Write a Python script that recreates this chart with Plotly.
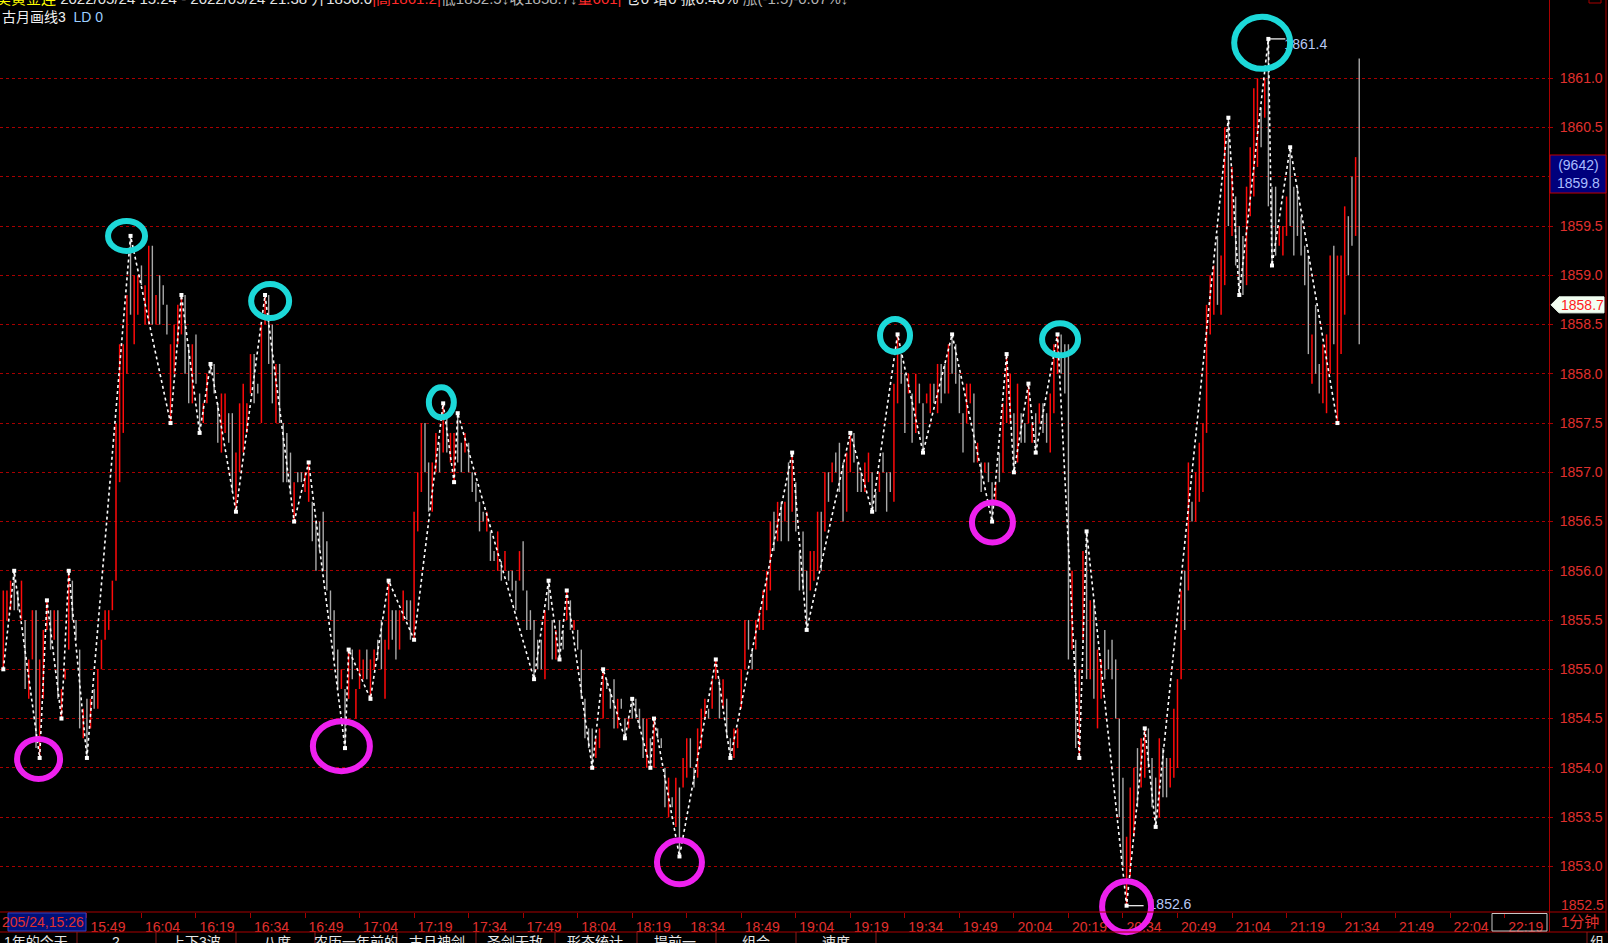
import plotly.graph_objects as go

# ---------------- data ----------------
# 1-minute bars, index 0 = 15:26 (low, high, up=1 red / 0 gray)
bar_low = [
    1855.0, 1855.5, 1855.6, 1855.6, 1855.6, 1855.5, 1854.8, 1854.7, 1855.1, 1854.2,
    1854.1, 1854.7, 1855.4, 1855.2, 1855.3, 1854.7, 1854.5, 1854.9, 1855.2, 1855.5,
    1855.3, 1854.4, 1854.3, 1854.1, 1854.4, 1854.6, 1854.6, 1855.0, 1855.3, 1855.4,
    1855.6, 1855.9, 1856.9, 1857.4, 1858.0, 1858.6, 1858.3, 1858.6, 1858.9, 1858.5,
    1858.5, 1858.5, 1858.5, 1858.5, 1858.7, 1858.4, 1857.5, 1858.0, 1858.3, 1858.4,
    1858.0, 1857.7, 1857.7, 1857.9, 1857.4, 1857.5, 1857.7, 1858.0, 1857.8, 1857.3,
    1857.2, 1857.4, 1857.3, 1856.8, 1856.6, 1857.0, 1857.2, 1857.4, 1857.8, 1857.7,
    1857.8, 1857.5, 1858.5, 1858.1, 1857.7, 1857.5, 1857.5, 1856.9, 1856.9, 1856.8,
    1856.5, 1856.9, 1856.9, 1856.8, 1856.7, 1856.3, 1856.0, 1856.2, 1856.0, 1855.8,
    1855.5, 1855.1, 1854.8, 1854.8, 1854.2, 1854.7, 1854.9, 1854.5, 1854.8, 1854.9,
    1854.9, 1854.7, 1855.0, 1855.1, 1855.0, 1854.7, 1855.2, 1855.3, 1855.1, 1855.2,
    1855.5, 1855.5, 1855.3, 1855.3, 1856.4, 1856.8, 1857.0, 1856.6, 1856.6, 1857.0,
    1857.0, 1857.2, 1857.2, 1857.1, 1856.9, 1857.1, 1857.0, 1857.2, 1857.0, 1856.8,
    1856.7, 1856.4, 1856.5, 1856.4, 1856.1, 1856.1, 1856.0, 1855.9, 1856.0, 1855.9,
    1855.8, 1855.6, 1855.9, 1855.8, 1855.4, 1855.4, 1854.9, 1855.0, 1855.0, 1854.9,
    1855.6, 1855.1, 1855.1, 1855.1, 1855.2, 1855.5, 1855.4, 1855.4, 1855.2, 1854.7,
    1854.3, 1854.2, 1854.0, 1854.1, 1854.2, 1854.5, 1854.8, 1854.6, 1854.4, 1854.4,
    1854.6, 1854.3, 1854.4, 1854.5, 1854.5, 1854.4, 1854.1, 1854.0, 1854.0, 1854.0,
    1854.3, 1854.2, 1853.6, 1853.5, 1853.6, 1853.4, 1853.1, 1853.8, 1853.9, 1854.0,
    1853.8, 1853.9, 1854.2, 1854.5, 1854.5, 1854.6, 1854.9, 1854.5, 1854.6, 1854.3,
    1854.1, 1854.1, 1854.2, 1854.6, 1855.0, 1855.2, 1855.0, 1855.2, 1855.4, 1855.4,
    1855.6, 1855.8, 1856.2, 1856.3, 1856.3, 1856.5, 1856.3, 1856.6, 1856.4, 1855.8,
    1855.8, 1855.4, 1855.8, 1855.9, 1856.0, 1856.0, 1856.4, 1856.7, 1856.9, 1857.0,
    1856.8, 1856.5, 1856.6, 1857.0, 1857.1, 1856.8, 1856.8, 1856.8, 1856.9, 1856.6,
    1856.6, 1856.8, 1857.0, 1856.6, 1856.8, 1856.7, 1857.7, 1857.9, 1857.4, 1857.8,
    1857.3, 1857.4, 1857.7, 1857.2, 1857.7, 1857.6, 1857.7, 1857.6, 1857.7, 1857.8,
    1857.8, 1858.0, 1857.9, 1857.6, 1857.2, 1857.5, 1857.7, 1857.1, 1857.1, 1856.8,
    1857.0, 1856.9, 1856.5, 1856.7, 1856.9, 1857.0, 1857.5, 1857.5, 1857.0, 1857.1,
    1857.3, 1857.3, 1857.5, 1857.3, 1857.2, 1857.5, 1857.4, 1857.3, 1857.2, 1857.6,
    1858.0, 1858.0, 1857.8, 1855.1, 1855.2, 1854.2, 1854.1, 1855.3, 1854.9, 1854.9,
    1854.7, 1854.4, 1854.7, 1854.9, 1855.0, 1854.9, 1854.5, 1853.5, 1853.0, 1852.6,
    1852.9, 1853.3, 1853.6, 1853.8, 1853.9, 1854.0, 1853.6, 1853.4, 1853.5, 1853.7,
    1853.7, 1853.8, 1853.9, 1854.0, 1854.9, 1855.4, 1855.8, 1856.5, 1856.5, 1856.7,
    1856.8, 1857.4, 1858.4, 1858.6, 1858.7, 1858.6, 1858.9, 1859.5, 1859.4, 1859.1,
    1858.8, 1858.8, 1858.9, 1859.6, 1859.8, 1860.1, 1860.3, 1860.6, 1859.7, 1859.1,
    1859.2, 1859.3, 1859.2, 1859.4, 1859.5, 1859.2, 1859.4, 1859.2, 1858.9, 1858.2,
    1857.9, 1858.0, 1857.8, 1857.7, 1857.6, 1858.0, 1858.3, 1857.5, 1858.2, 1858.6,
    1859.0, 1859.3, 1859.4, 1858.3,
]
bar_high = [
    1855.8, 1855.8, 1855.9, 1856.0, 1855.8, 1855.9, 1855.5, 1855.1, 1855.6, 1855.6,
    1855.1, 1855.4, 1855.7, 1855.6, 1855.6, 1855.6, 1854.8, 1855.0, 1856.0, 1855.9,
    1855.5, 1855.2, 1854.6, 1854.7, 1854.7, 1854.8, 1855.0, 1855.3, 1855.6, 1855.6,
    1855.9, 1857.5, 1858.3, 1858.3, 1858.8, 1859.4, 1859.0, 1859.0, 1859.1, 1858.9,
    1859.3, 1859.3, 1858.8, 1859.0, 1858.9, 1858.7, 1858.3, 1858.5, 1858.7, 1858.8,
    1858.8, 1858.3, 1858.3, 1858.4, 1857.8, 1857.7, 1858.0, 1858.1, 1858.1, 1857.7,
    1857.8, 1857.8, 1857.6, 1857.6, 1857.2, 1857.7, 1857.9, 1857.7, 1858.2, 1858.2,
    1857.9, 1858.5, 1858.8, 1858.8, 1858.5, 1858.1, 1858.1, 1857.5, 1857.4, 1857.2,
    1856.9, 1857.0, 1857.0, 1857.0, 1857.1, 1856.7, 1856.5, 1856.5, 1856.6, 1856.3,
    1855.8, 1855.6, 1855.2, 1855.0, 1854.8, 1855.2, 1855.2, 1854.8, 1855.2, 1855.1,
    1855.2, 1855.1, 1855.2, 1855.3, 1855.5, 1855.3, 1855.9, 1855.6, 1855.6, 1855.6,
    1855.8, 1855.7, 1855.7, 1856.6, 1857.0, 1857.5, 1857.5, 1857.1, 1857.1, 1857.4,
    1857.3, 1857.7, 1857.6, 1857.4, 1857.4, 1857.6, 1857.3, 1857.4, 1857.3, 1857.0,
    1856.9, 1856.7, 1856.6, 1856.6, 1856.4, 1856.2, 1856.4, 1856.1, 1856.2, 1856.0,
    1856.0, 1855.9, 1856.2, 1856.3, 1855.8, 1855.6, 1855.5, 1855.3, 1855.3, 1855.6,
    1855.9, 1855.5, 1855.4, 1855.5, 1855.4, 1855.8, 1855.7, 1855.5, 1855.4, 1855.2,
    1854.7, 1854.4, 1854.4, 1854.3, 1854.4, 1855.0, 1854.9, 1854.8, 1854.9, 1854.7,
    1854.7, 1854.5, 1854.5, 1854.7, 1854.7, 1854.6, 1854.5, 1854.5, 1854.3, 1854.5,
    1854.4, 1854.3, 1854.0, 1853.9, 1853.7, 1853.9, 1853.8, 1854.1, 1854.3, 1854.3,
    1854.0, 1854.4, 1854.6, 1854.7, 1854.6, 1854.9, 1855.1, 1854.9, 1854.9, 1854.7,
    1854.3, 1854.4, 1854.4, 1855.0, 1855.5, 1855.5, 1855.2, 1855.5, 1855.6, 1855.8,
    1856.0, 1856.5, 1856.6, 1856.7, 1856.7, 1856.7, 1857.1, 1857.2, 1856.9, 1856.2,
    1856.4, 1856.0, 1856.2, 1856.2, 1856.6, 1856.6, 1857.0, 1857.0, 1857.1, 1857.2,
    1857.3, 1857.1, 1857.2, 1857.4, 1857.4, 1857.1, 1857.0, 1857.1, 1857.2, 1857.0,
    1856.8, 1857.0, 1857.2, 1857.0, 1857.0, 1857.9, 1858.4, 1858.2, 1858.0, 1858.0,
    1857.8, 1858.0, 1857.9, 1857.7, 1857.8, 1857.9, 1857.9, 1858.1, 1858.1, 1858.1,
    1858.3, 1858.4, 1858.3, 1858.0, 1857.6, 1857.9, 1857.9, 1857.8, 1857.3, 1857.1,
    1857.1, 1857.1, 1856.9, 1856.9, 1857.2, 1857.7, 1858.2, 1858.0, 1857.6, 1857.9,
    1857.6, 1857.5, 1857.9, 1857.5, 1857.6, 1857.7, 1857.7, 1857.6, 1857.8, 1858.3,
    1858.4, 1858.4, 1858.3, 1858.3, 1856.0, 1855.3, 1855.0, 1856.2, 1856.4, 1855.7,
    1855.7, 1855.2, 1855.1, 1855.4, 1855.2, 1855.3, 1855.1, 1854.5, 1853.9, 1853.3,
    1853.8, 1854.0, 1854.2, 1854.3, 1854.4, 1854.4, 1854.1, 1853.9, 1854.3, 1854.2,
    1854.1, 1854.1, 1854.6, 1854.9, 1855.8, 1856.0, 1857.1, 1856.7, 1857.0, 1857.3,
    1857.5, 1858.7, 1859.0, 1859.1, 1859.4, 1859.2, 1860.5, 1860.6, 1860.1, 1859.8,
    1859.5, 1859.4, 1859.9, 1860.3, 1860.9, 1861.0, 1860.7, 1861.0, 1861.4, 1859.9,
    1859.9, 1859.5, 1859.5, 1859.8, 1860.3, 1859.9, 1859.9, 1859.6, 1859.3, 1859.2,
    1858.4, 1858.7, 1858.1, 1858.3, 1858.4, 1859.2, 1859.3, 1859.2, 1859.2, 1859.7,
    1859.6, 1860.0, 1860.2, 1861.2,
]
bar_up = [
    1, 1, 1, 0, 0, 1, 0, 1, 1, 0,   1, 1, 1, 0, 1, 0, 1, 1, 1, 0,
    0, 0, 1, 0, 1, 0, 1, 1, 1, 1,   1, 1, 1, 1, 1, 0, 1, 1, 0, 1,
    1, 0, 1, 0, 0, 0, 1, 1, 1, 1,   0, 0, 1, 0, 0, 1, 1, 0, 0, 0,
    1, 1, 0, 0, 1, 1, 1, 1, 1, 0,   0, 1, 1, 0, 0, 1, 0, 0, 0, 0,
    1, 0, 0, 1, 1, 0, 0, 0, 0, 0,   0, 0, 0, 1, 0, 1, 0, 1, 1, 1,
    0, 1, 1, 0, 0, 1, 1, 0, 0, 1,   1, 0, 0, 1, 1, 1, 0, 0, 1, 1,
    0, 1, 0, 1, 1, 0, 0, 1, 0, 0,   0, 0, 0, 1, 0, 0, 1, 0, 1, 0,
    0, 0, 1, 0, 0, 0, 0, 0, 0, 1,   0, 0, 1, 0, 0, 1, 0, 1, 0, 0,
    0, 0, 0, 1, 1, 1, 0, 0, 0, 1,   0, 0, 1, 0, 0, 0, 0, 1, 0, 1,
    0, 0, 0, 1, 0, 1, 0, 1, 1, 0,   0, 1, 1, 1, 0, 1, 1, 0, 1, 0,
    0, 1, 1, 1, 1, 0, 0, 1, 1, 1,   1, 1, 0, 1, 0, 1, 0, 1, 0, 0,
    0, 0, 1, 1, 1, 0, 1, 0, 1, 0,   0, 0, 1, 1, 0, 0, 0, 1, 1, 0,
    0, 1, 0, 0, 0, 1, 1, 0, 0, 1,   0, 1, 0, 0, 1, 1, 0, 1, 0, 0,
    1, 0, 0, 0, 0, 1, 1, 0, 1, 0,   1, 0, 0, 1, 0, 1, 1, 1, 0, 1,
    0, 0, 1, 1, 0, 1, 0, 0, 1, 1,   1, 0, 0, 0, 1, 0, 1, 1, 0, 1,
    0, 1, 1, 0, 0, 0, 0, 0, 0, 1,   1, 1, 0, 1, 1, 0, 0, 0, 1, 0,
    0, 1, 1, 1, 1, 0, 1, 0, 1, 1,   1, 1, 1, 1, 0, 1, 1, 0, 1, 0,
    0, 0, 1, 1, 1, 1, 0, 1, 0, 0,   0, 1, 1, 1, 0, 0, 0, 0, 0, 0,
    1, 0, 0, 1, 1, 1, 0, 1, 1, 1,   0, 0, 1, 0,
]

# zigzag swing points (bar index, price)
pivot_k = [0, 3, 10, 12, 16, 18, 23, 35, 46, 49, 54, 57, 64, 72, 80, 84,
           94, 95, 101, 106, 113, 121, 124, 125, 146, 150, 153, 155, 162, 165,
           171, 173, 178, 179, 186, 196, 200, 217, 221, 233, 239, 246, 253, 261,
           272, 276, 278, 282, 284, 290, 296, 298, 309, 314, 317, 337, 340, 348,
           349, 354, 367]
pivot_p = [1855.0, 1856.0, 1854.1, 1855.7, 1854.5, 1856.0, 1854.1, 1859.4, 1857.5,
           1858.8, 1857.4, 1858.1, 1856.6, 1858.8, 1856.5, 1857.1, 1854.2, 1855.2,
           1854.7, 1855.9, 1855.3, 1857.7, 1856.9, 1857.6, 1854.9, 1855.9, 1855.1,
           1855.8, 1854.0, 1855.0, 1854.3, 1854.7, 1854.0, 1854.5, 1853.1, 1855.1,
           1854.1, 1857.2, 1855.4, 1857.4, 1856.6, 1858.4, 1857.2, 1858.4, 1856.5,
           1858.2, 1857.0, 1857.9, 1857.2, 1858.4, 1854.1, 1856.4, 1852.6, 1854.4,
           1853.4, 1860.6, 1858.8, 1861.4, 1859.1, 1860.3, 1857.5]

# marked highs (cyan) and lows (magenta): centre (bar index, price)
high_ring_k = [33.9, 73.4, 120.5, 245.3, 290.7, 346.3]
high_ring_p = [1859.40, 1858.74, 1857.71, 1858.39, 1858.35, 1861.36]
low_ring_k = [9.7, 93.0, 186.0, 272.1, 309.0]
low_ring_p = [1854.09, 1854.22, 1853.04, 1856.49, 1852.59]

# labelled extremes
hi_label_k, hi_label_p = 348, 1861.4
lo_label_k, lo_label_p = 309, 1852.6
last_price = 1858.7
cursor_price = 1859.8
cursor_vol = 9642

time_tick_k = [23, 38, 53, 68, 83, 98, 113, 128, 143, 158, 173, 188, 203, 218,
               233, 248, 263, 278, 293, 308, 323, 338, 353, 368, 383, 398, 413]
time_tick_labels = ["15:49", "16:04", "16:19", "16:34", "16:49", "17:04", "17:19",
                    "17:34", "17:49", "18:04", "18:19", "18:34", "18:49", "19:04",
                    "19:19", "19:34", "19:49", "20:04", "20:19", "20:34", "20:49",
                    "21:04", "21:19", "21:34", "21:49", "22:04", "22:19"]
price_ticks = [1853.0, 1853.5, 1854.0, 1854.5, 1855.0, 1855.5, 1856.0, 1856.5, 1857.0,
               1857.5, 1858.0, 1858.5, 1859.0, 1859.5, 1860.0, 1860.5, 1861.0]
tab_labels = ["1年的今天", "2", "上下3波", "八度", "农历一年前的", "古月神剑", "圣剑无敌",
              "形态统计", "提前一", "组合", "速度"]

# ---------------- layout geometry ----------------
W, H = 1608, 943
ML, MR, MT, MB = 0, 59, 0, 31
PW, PH = W - ML - MR, H - MT - MB
X0, X1 = -0.91, 425.2
Y0, Y1 = 1852.536, 1861.795

RED = "#ff0a0a"
GRAY = "#a9a9a9"
AXRED = "#e0302e"
GRIDRED = "#a80000"
FONT = "Liberation Sans, Arial, Noto Sans CJK SC"


def xp(px):
    return (px - ML) / PW


def yp(py):
    return 1 - (py - MT) / PH


def k2px(k):
    return ML + (k - X0) / (X1 - X0) * PW


def px2k(px):
    return X0 + (px - ML) / PW * (X1 - X0)


def p2py(p):
    return MT + (Y1 - p) / (Y1 - Y0) * PH


def py2p(py):
    return Y1 - (py - MT) / PH * (Y1 - Y0)


# ---------------- traces ----------------
rx_, ry_, gx_, gy_ = [], [], [], []
for i, (lo, hi, up) in enumerate(zip(bar_low, bar_high, bar_up)):
    if up:
        rx_ += [i, i, None]
        ry_ += [lo, hi, None]
    else:
        gx_ += [i, i, None]
        gy_ += [lo, hi, None]

fig = go.Figure()
fig.add_trace(go.Scatter(x=gx_, y=gy_, mode="lines", line=dict(color=GRAY, width=1.4),
                         hoverinfo="skip", showlegend=False))
fig.add_trace(go.Scatter(x=rx_, y=ry_, mode="lines", line=dict(color=RED, width=1.5),
                         hoverinfo="skip", showlegend=False))
fig.add_trace(go.Scatter(x=pivot_k, y=pivot_p, mode="lines+markers",
                         line=dict(color="white", width=1.6, dash="3px,3px"),
                         marker=dict(symbol="square", size=4, color="white"),
                         hoverinfo="skip", showlegend=False))

shapes = []
annotations = []

# extreme value labels with short leader lines (text as trace so rings sit above it)
lab_x, lab_y, lab_t = [], [], []
for kk, pp, dx, dy in [(hi_label_k, hi_label_p, 16, 7), (lo_label_k, lo_label_p, 22, 0)]:
    x0 = k2px(kk)
    y0 = p2py(pp)
    shapes.append(dict(type="line", xref="paper", yref="paper", x0=xp(x0), x1=xp(x0 + 17),
                       y0=yp(y0), y1=yp(y0), line=dict(color="white", width=1.2)))
    lab_x.append(px2k(x0 + dx))
    lab_y.append(py2p(y0 + dy))
    lab_t.append(f"{pp:.1f}")
fig.add_trace(go.Scatter(x=lab_x, y=lab_y, text=lab_t, mode="text", textposition="middle right",
                         textfont=dict(color="#b8c8f4", size=14, family=FONT),
                         cliponaxis=False, hoverinfo="skip", showlegend=False))

# rings
high_r = [(18.5, 15), (19, 17), (12.5, 15), (15, 16.5), (18, 16), (28, 26)]
low_r = [(21.5, 20), (28.5, 25), (22.5, 22), (20.5, 20), (24.5, 25.5)]
for (kk, pp), (rx, ry), col, w in (
        [((a, b), r, "#1cd8d8", 6) for a, b, r in zip(high_ring_k, high_ring_p, high_r)] +
        [((a, b), r, "#ee20ee", 6) for a, b, r in zip(low_ring_k, low_ring_p, low_r)]):
    cx, cy = k2px(kk), p2py(pp)
    shapes.append(dict(type="circle", xref="paper", yref="paper", layer="above",
                       x0=xp(cx - rx), x1=xp(cx + rx), y0=yp(cy + ry), y1=yp(cy - ry),
                       line=dict(color=col, width=w)))

# frame lines of the terminal UI
shapes += [
    dict(type="line", xref="paper", yref="paper", x0=xp(0), x1=xp(1606), y0=yp(912), y1=yp(912),
         line=dict(color=GRIDRED, width=1)),
    dict(type="line", xref="paper", yref="paper", x0=xp(0), x1=xp(1608), y0=yp(932), y1=yp(932),
         line=dict(color=GRIDRED, width=1)),
    dict(type="line", xref="paper", yref="paper", x0=xp(1549.5), x1=xp(1549.5), y0=yp(0), y1=yp(932),
         line=dict(color=GRIDRED, width=1)),
    dict(type="line", xref="paper", yref="paper", x0=xp(1606), x1=xp(1606), y0=yp(0), y1=yp(932),
         line=dict(color=GRIDRED, width=1)),
    dict(type="rect", xref="paper", yref="paper", x0=xp(1589), x1=xp(1601), y0=yp(3), y1=yp(-4),
         line=dict(color=GRIDRED, width=1)),
]
# tab separators
for sx in [77, 156, 236, 315, 397, 476, 555, 637, 716, 796, 876, 1587]:
    shapes.append(dict(type="line", xref="paper", yref="paper", x0=xp(sx), x1=xp(sx),
                       y0=yp(932), y1=yp(943), line=dict(color="#8a1a1a", width=1)))
tab_cx = [36, 116, 196, 277, 356, 437, 515, 595, 675, 756, 836]
for cx, t in zip(tab_cx, tab_labels):
    annotations.append(dict(text=t, x=xp(cx), y=yp(942), xref="paper", yref="paper",
                            xanchor="center", yanchor="middle", showarrow=False,
                            font=dict(color="#e8e8e8", size=14, family=FONT)))
annotations.append(dict(text="组", x=xp(1597), y=yp(942), xref="paper", yref="paper",
                        xanchor="center", yanchor="middle", showarrow=False,
                        font=dict(color="#e8e8e8", size=14, family=FONT)))

# cursor time label (first bar)
shapes.append(dict(type="rect", xref="paper", yref="paper", x0=xp(8), x1=xp(86), y0=yp(931),
                   y1=yp(913), fillcolor="#00107a", line=dict(color="#3040c0", width=1), layer="above"))
annotations.append(dict(text="205/24,15:26", x=xp(0), y=yp(921.5), xref="paper", yref="paper",
                        xanchor="left", yanchor="middle", showarrow=False,
                        font=dict(color=AXRED, size=14, family=FONT)))
# box around last time label
shapes.append(dict(type="rect", xref="paper", yref="paper", x0=xp(1492), x1=xp(1547), y0=yp(931),
                   y1=yp(913.5), line=dict(color="#c8c8c8", width=1)))
annotations.append(dict(text="1分钟", x=xp(1559), y=yp(921.5), xref="paper", yref="paper",
                        xanchor="left", yanchor="middle", showarrow=False,
                        font=dict(color=AXRED, size=15, family=FONT)))
annotations.append(dict(text="1852.5", x=xp(1559), y=yp(905), xref="paper", yref="paper",
                        xanchor="left", yanchor="middle", showarrow=False,
                        font=dict(color=AXRED, size=14, family=FONT)))

# cursor price box (covers the 1860.0 level)
shapes.append(dict(type="rect", xref="paper", yref="paper", x0=xp(1550), x1=xp(1606), y0=yp(193),
                   y1=yp(155), fillcolor="#00007c", line=dict(color="#c00000", width=1), layer="above"))
annotations.append(dict(text=f"({cursor_vol})<br>{cursor_price:.1f}", x=xp(1578), y=yp(174),
                        xref="paper", yref="paper", xanchor="center", yanchor="middle",
                        showarrow=False, font=dict(color="#a9bcff", size=14, family=FONT)))
# last price tag
ty = p2py(last_price)
path = (f"M {xp(1551)} {yp(ty)} L {xp(1559)} {yp(ty - 8)} L {xp(1604)} {yp(ty - 8)} "
        f"L {xp(1604)} {yp(ty + 8)} L {xp(1559)} {yp(ty + 8)} Z")
shapes.append(dict(type="path", xref="paper", yref="paper", path=path, fillcolor="#f2fff2",
                   line=dict(color="#f2fff2", width=1), layer="above"))
annotations.append(dict(text=f"{last_price:.1f}", x=xp(1582), y=yp(ty), xref="paper", yref="paper",
                        xanchor="center", yanchor="middle", showarrow=False,
                        font=dict(color="#ff1c1c", size=14, family=FONT)))

# header lines
header = ('<span style="color:#ffff00">美黄金连</span> '
          '<span style="color:#e6e6e6">2022/05/24 15:24 - 2022/05/24 21:38 开1856.0</span>'
          '<span style="color:#ff2a2a">|高1861.2|</span>'
          '<span style="color:#b4b4b4">低1852.5↓收1858.7↓</span>'
          '<span style="color:#ff2a2a">量601|</span>'
          '<span style="color:#e6e6e6"> 仓0 增0 振0.46% </span>'
          '<span style="color:#b4b4b4">涨(-1.5)-0.07%↓</span>')
annotations.append(dict(text=header, x=xp(-6), y=yp(-1.5), xref="paper", yref="paper",
                        xanchor="left", yanchor="middle", showarrow=False,
                        font=dict(size=15, family=FONT)))
annotations.append(dict(text='<span style="color:#f0f0f0">古月画线3</span>  '
                             '<span style="color:#9ccfff">LD 0</span>',
                        x=xp(0), y=yp(17), xref="paper", yref="paper",
                        xanchor="left", yanchor="middle", showarrow=False,
                        font=dict(size=14, family=FONT)))

# y tick texts: the 1860.0 level is hidden behind the cursor price box
y_ticktext = ["" if abs(v - 1860.0) < 1e-9 else f"{v:.1f}" for v in price_ticks]

fig.update_layout(
    width=W, height=H,
    margin=dict(l=ML, r=MR, t=MT, b=MB, pad=0),
    paper_bgcolor="black", plot_bgcolor="black",
    showlegend=False,
    shapes=shapes, annotations=annotations,
    xaxis=dict(range=[X0, X1], showgrid=False, zeroline=False, showline=False,
               tickmode="array", tickvals=time_tick_k, ticktext=time_tick_labels,
               ticks="outside", ticklen=5, tickcolor=GRIDRED, tickwidth=1,
               tickfont=dict(color=AXRED, size=14, family=FONT),
               ticklabelshift=21, ticklabelstandoff=-3, fixedrange=True),
    yaxis=dict(range=[Y0, Y1], side="right", showgrid=True, gridcolor=GRIDRED, griddash="dot",
               gridwidth=1, zeroline=False, showline=False,
               tickmode="array", tickvals=price_ticks, ticktext=y_ticktext,
               ticks="outside", ticklen=3, tickcolor=GRIDRED,
               tickfont=dict(color=AXRED, size=14, family=FONT),
               ticklabelstandoff=4, fixedrange=True),
)

fig.write_html("out.html", config={"displayModeBar": False},
               post_script="document.body.style.margin='0';document.body.style.overflow='hidden';")
